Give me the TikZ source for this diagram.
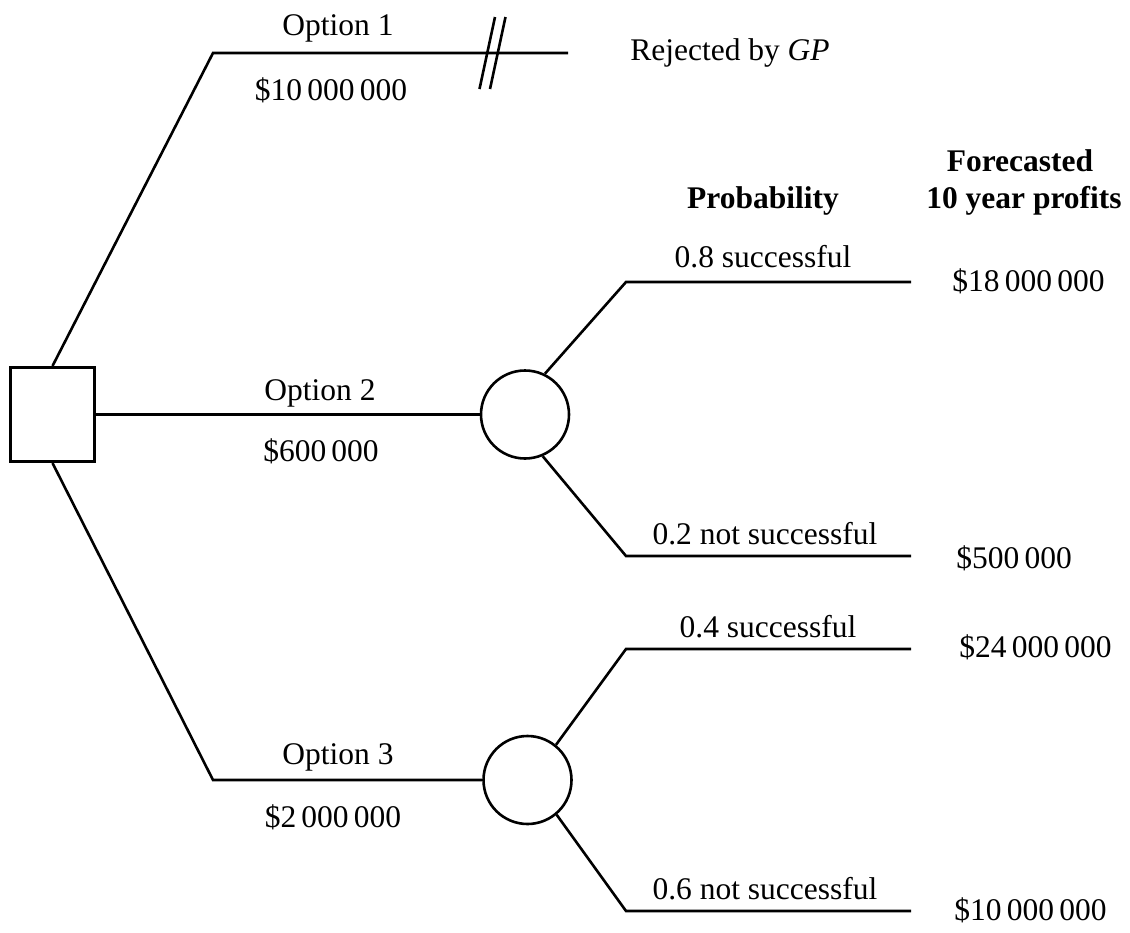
\documentclass[tikz,border=0pt]{standalone}
\usepackage{fontspec}
\setmainfont{Liberation Serif}
\begin{document}
\begin{tikzpicture}[x=0.5pt,y=-0.5pt,line width=1.3pt,line join=miter,
  lbl/.style={font=\fontsize{15.75}{19}\selectfont,inner sep=0pt,anchor=base},
  hd/.style={font=\fontsize{15.75}{19}\selectfont\bfseries,inner sep=0pt,anchor=base},
  val/.style={font=\fontsize{15.75}{19}\selectfont,inner sep=0pt,anchor=base west},
  decision/.style={draw,rectangle,minimum width=42.2pt,minimum height=47.2pt,inner sep=0pt},
  chance/.style={draw,circle,minimum size=44pt,inner sep=0pt}]
\useasboundingbox (0,0) rectangle (1130,932);
% nodes
\node[decision] (D) at (52.5,414.5) {};
\node[chance] (C1) at (525,414.5) {};
\node[chance] (C2) at (527.5,780) {};
% corners and ends
\coordinate (c1) at (213,53);
\coordinate (e1) at (568,53);
\coordinate (c3) at (213,780);
\coordinate (b1) at (626,282);
\coordinate (f1) at (911,282);
\coordinate (b2) at (626,556);
\coordinate (f2) at (911,556);
\coordinate (b3) at (626,649);
\coordinate (f3) at (911,649);
\coordinate (b4) at (626,911);
\coordinate (f4) at (911,911);
\coordinate (s1a) at (479.5,89);
\coordinate (s1b) at (495,17);
\coordinate (s2a) at (490,89);
\coordinate (s2b) at (505.5,17);
% connectors
\draw (D.north) -- (c1) -- (e1);
\draw (s1a) -- (s1b);
\draw (s2a) -- (s2b);
\draw (D.east) -- (C1.west);
\draw (D.south) -- (c3) -- (C2.west);
\draw (C1.64) -- (b1) -- (f1);
\draw (C1.-67) -- (b2) -- (f2);
\draw (C2.51) -- (b3) -- (f3);
\draw (C2.-50) -- (b4) -- (f4);
% labels
\node[lbl] (o1) at (338,35) {Option 1};
\node[lbl] (m1) at (331,100) {\$10\,000\,000};
\node[lbl] (rej) at (730,60) {Rejected by \textit{GP}};
\node[hd] (fc1) at (1020,171) {Forecasted};
\node[hd] (fc2) at (1024,208) {10 year profits};
\node[hd] (pr) at (763,208) {Probability};
\node[lbl] (p1) at (763,267) {0.8 successful};
\node[val] (v1) at (951,291) {\$18\,000\,000};
\node[lbl] (o2) at (320,400) {Option 2};
\node[lbl] (m2) at (321,461) {\$600\,000};
\node[lbl] (p2) at (765,544) {0.2 not successful};
\node[val] (v2) at (955,568) {\$500\,000};
\node[lbl] (p3) at (768,637) {0.4 successful};
\node[val] (v3) at (958,657) {\$24\,000\,000};
\node[lbl] (o3) at (338,764) {Option 3};
\node[lbl] (m3) at (333,827) {\$2\,000\,000};
\node[lbl] (p4) at (765,899) {0.6 not successful};
\node[val] (v4) at (953,920) {\$10\,000\,000};
\end{tikzpicture}
\end{document}
